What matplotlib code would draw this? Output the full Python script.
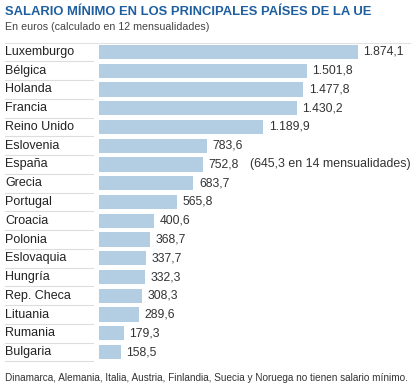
import matplotlib
matplotlib.use("Agg")
import matplotlib.pyplot as plt

countries = ["Luxemburgo", "Bélgica", "Holanda", "Francia", "Reino Unido", "Eslovenia",
             "España", "Grecia", "Portugal", "Croacia", "Polonia", "Eslovaquia", "Hungría",
             "Rep. Checa", "Lituania", "Rumania", "Bulgaria"]
values = [1874.1, 1501.8, 1477.8, 1430.2, 1189.9, 783.6, 752.8, 683.7, 565.8, 400.6,
          368.7, 337.7, 332.3, 308.3, 289.6, 179.3, 158.5]
value_labels = ["1.874,1", "1.501,8", "1.477,8", "1.430,2", "1.189,9", "783,6", "752,8",
                "683,7", "565,8", "400,6", "368,7", "337,7", "332,3", "308,3", "289,6",
                "179,3", "158,5"]
extra_notes = {"España": "(645,3 en 14 mensualidades)"}

title = "SALARIO MÍNIMO EN LOS PRINCIPALES PAÍSES DE LA UE"
subtitle = "En euros (calculado en 12 mensualidades)"
footnote = "Dinamarca, Alemania, Italia, Austria, Finlandia, Suecia y Noruega no tienen salario mínimo."

plt.rcParams['font.family'] = ['Liberation Sans', 'DejaVu Sans']

W, H = 414, 390
fig = plt.figure(figsize=(W / 100, H / 100), dpi=100)
fig.patch.set_facecolor("white")

left_px, right_px = 99, 403
top_px, bot_px = 42.6, 361.4
ax = fig.add_axes([left_px / W, 1 - bot_px / H, (right_px - left_px) / W, (bot_px - top_px) / H])
ax.set_xlim(0, (right_px - left_px) / 0.1382)
n = len(countries)
ax.set_ylim(n - 0.5, -0.5)
ax.axis("off")

ypos = list(range(n))
ax.barh(ypos, values, height=0.75, color="#b3cde3", edgecolor="none")

for i, (c, v, lab) in enumerate(zip(countries, values, value_labels)):
    ax.annotate(lab, (v, i), xytext=(4, 0), textcoords="offset points",
                va="center", ha="left", fontsize=8.7, color="#333333")
    if c in extra_notes:
        ax.annotate(extra_notes[c], (v, i), xytext=(33.5, 0), textcoords="offset points",
                    va="center", ha="left", fontsize=8.95, color="#333333")

def fy(px):
    return 1 - px / H

row_h = (bot_px - top_px) / n
for i, c in enumerate(countries):
    yc = top_px + row_h * (i + 0.5)
    fig.text(5 / W, fy(yc), c, fontsize=9.0, color="#222222", va="center", ha="left")
    yl = top_px + row_h * (i + 1)
    fig.add_artist(plt.Line2D([5 / W, 93 / W], [fy(yl), fy(yl)], color="#dddddd", lw=0.8))

fig.add_artist(plt.Line2D([5 / W, 410 / W], [fy(43.3), fy(43.3)], color="#e2e2e2", lw=0.8))

fig.text(5 / W, fy(12), title, fontsize=9.4, fontweight="bold", color="#1f5fa0",
         va="center", ha="left")
fig.text(5 / W, fy(27), subtitle, fontsize=7.7, color="#444444", va="center", ha="left")
fig.text(5 / W, fy(378), footnote, fontsize=7.2, color="#333333", va="center", ha="left")

fig.savefig("out.png", dpi=100, facecolor="white")
